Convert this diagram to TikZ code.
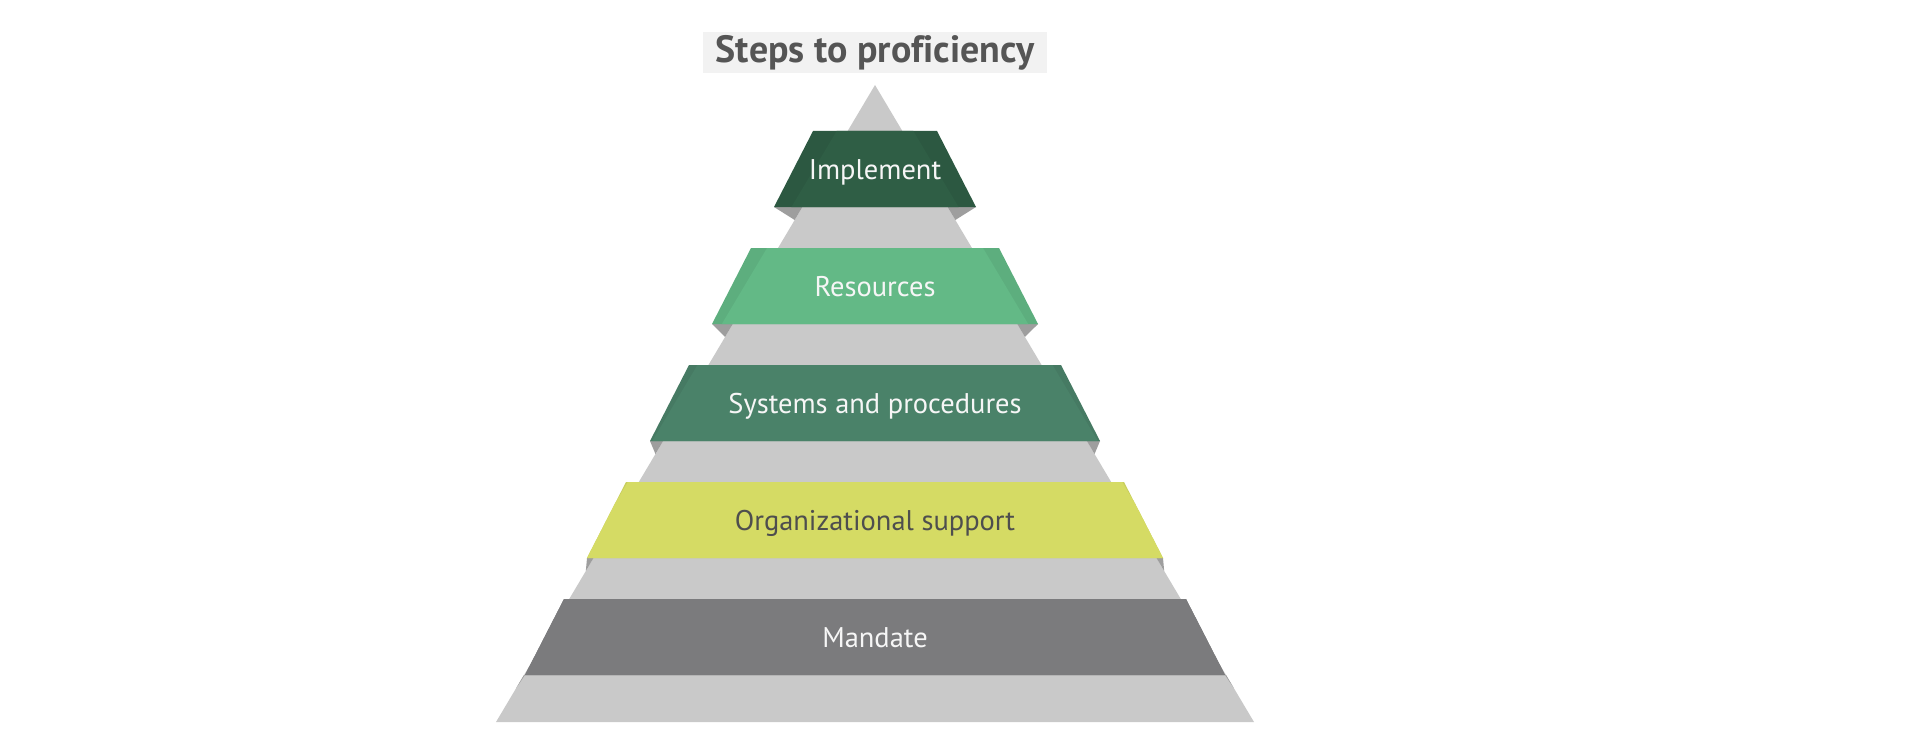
\documentclass[tikz,border=0pt]{standalone}
\usepackage{fontspec}
\setmainfont{PT Sans}[Ligatures=NoCommon]
\usetikzlibrary{positioning}

\definecolor{pyrgray}{HTML}{C9C9C9}
\definecolor{stepshadowgray}{HTML}{9E9E9E}
\definecolor{implgreen}{HTML}{2F5E45}
\definecolor{resgreen}{HTML}{63B986}
\definecolor{sysgreen}{HTML}{4A8269}
\definecolor{orgyellow}{HTML}{D5DB64}
\definecolor{mandgray}{HTML}{7B7B7D}
\definecolor{orgtext}{HTML}{4E4E4E}
\definecolor{lbltext}{HTML}{F6F6F6}
\definecolor{titletext}{HTML}{555555}
\definecolor{titlebg}{HTML}{F2F2F2}

\begin{document}
\begin{tikzpicture}[x=0.02cm, y=-0.02cm,
  lbl/.style={font=\fontsize{16.2}{19}\selectfont, inner sep=0pt, anchor=base},
  ttl/.style={font=\fontsize{21.6}{25}\selectfont\bfseries, text=titletext,
              fill=titlebg, inner sep=0pt, minimum width=6.9cm, minimum height=0.82cm},
  stepshadow/.style={fill=stepshadowgray}]
\useasboundingbox (0,0) rectangle (1920,740);

% the title
\node[ttl] (title) at (875,52.5) {Steps to proficiency};

% the pyramid behind the steps
\fill[pyrgray] (875,85) -- (1254,722) -- (496,722) -- cycle;

% one step per band: side shadows, darker ends, face, label
\foreach \ty/\hw/\col/\tcol/\nm/\txt in {
    131/62/implgreen/lbltext/impl/Implement,
    248/124/resgreen/lbltext/res/Resources,
    365/186/sysgreen/lbltext/sys/Systems and procedures,
    482/249/orgyellow/orgtext/org/Organizational support,
    599/311/mandgray/lbltext/mand/Mandate}{%
  \pgfmathsetmacro\by{\ty+76}
  \pgfmathsetmacro\hb{\hw+39}
  \pgfmathsetmacro\gb{(\by-85)*0.595}
  \pgfmathsetmacro\gd{\gb+0.595*13}
  \fill[stepshadow] (875-\hb,\by) -- (875-\gb,\by) -- (875-\gd,\by+13) -- cycle;
  \fill[stepshadow] (875+\hb,\by) -- (875+\gb,\by) -- (875+\gd,\by+13) -- cycle;
  \fill[\col!94!black] (875-\hw,\ty) -- (875+\hw,\ty) -- (875+\hb,\by) -- (875-\hb,\by) -- cycle;
  \begin{scope}
    \clip (864,85) -- (886,85) -- (1265,722) -- (485,722) -- cycle;
    \fill[\col] (875-\hw,\ty) -- (875+\hw,\ty) -- (875+\hb,\by) -- (875-\hb,\by) -- cycle;
  \end{scope}
  \node[lbl, text=\tcol] (\nm) at (875,\ty+48) {\txt};
}
\end{tikzpicture}
\end{document}
